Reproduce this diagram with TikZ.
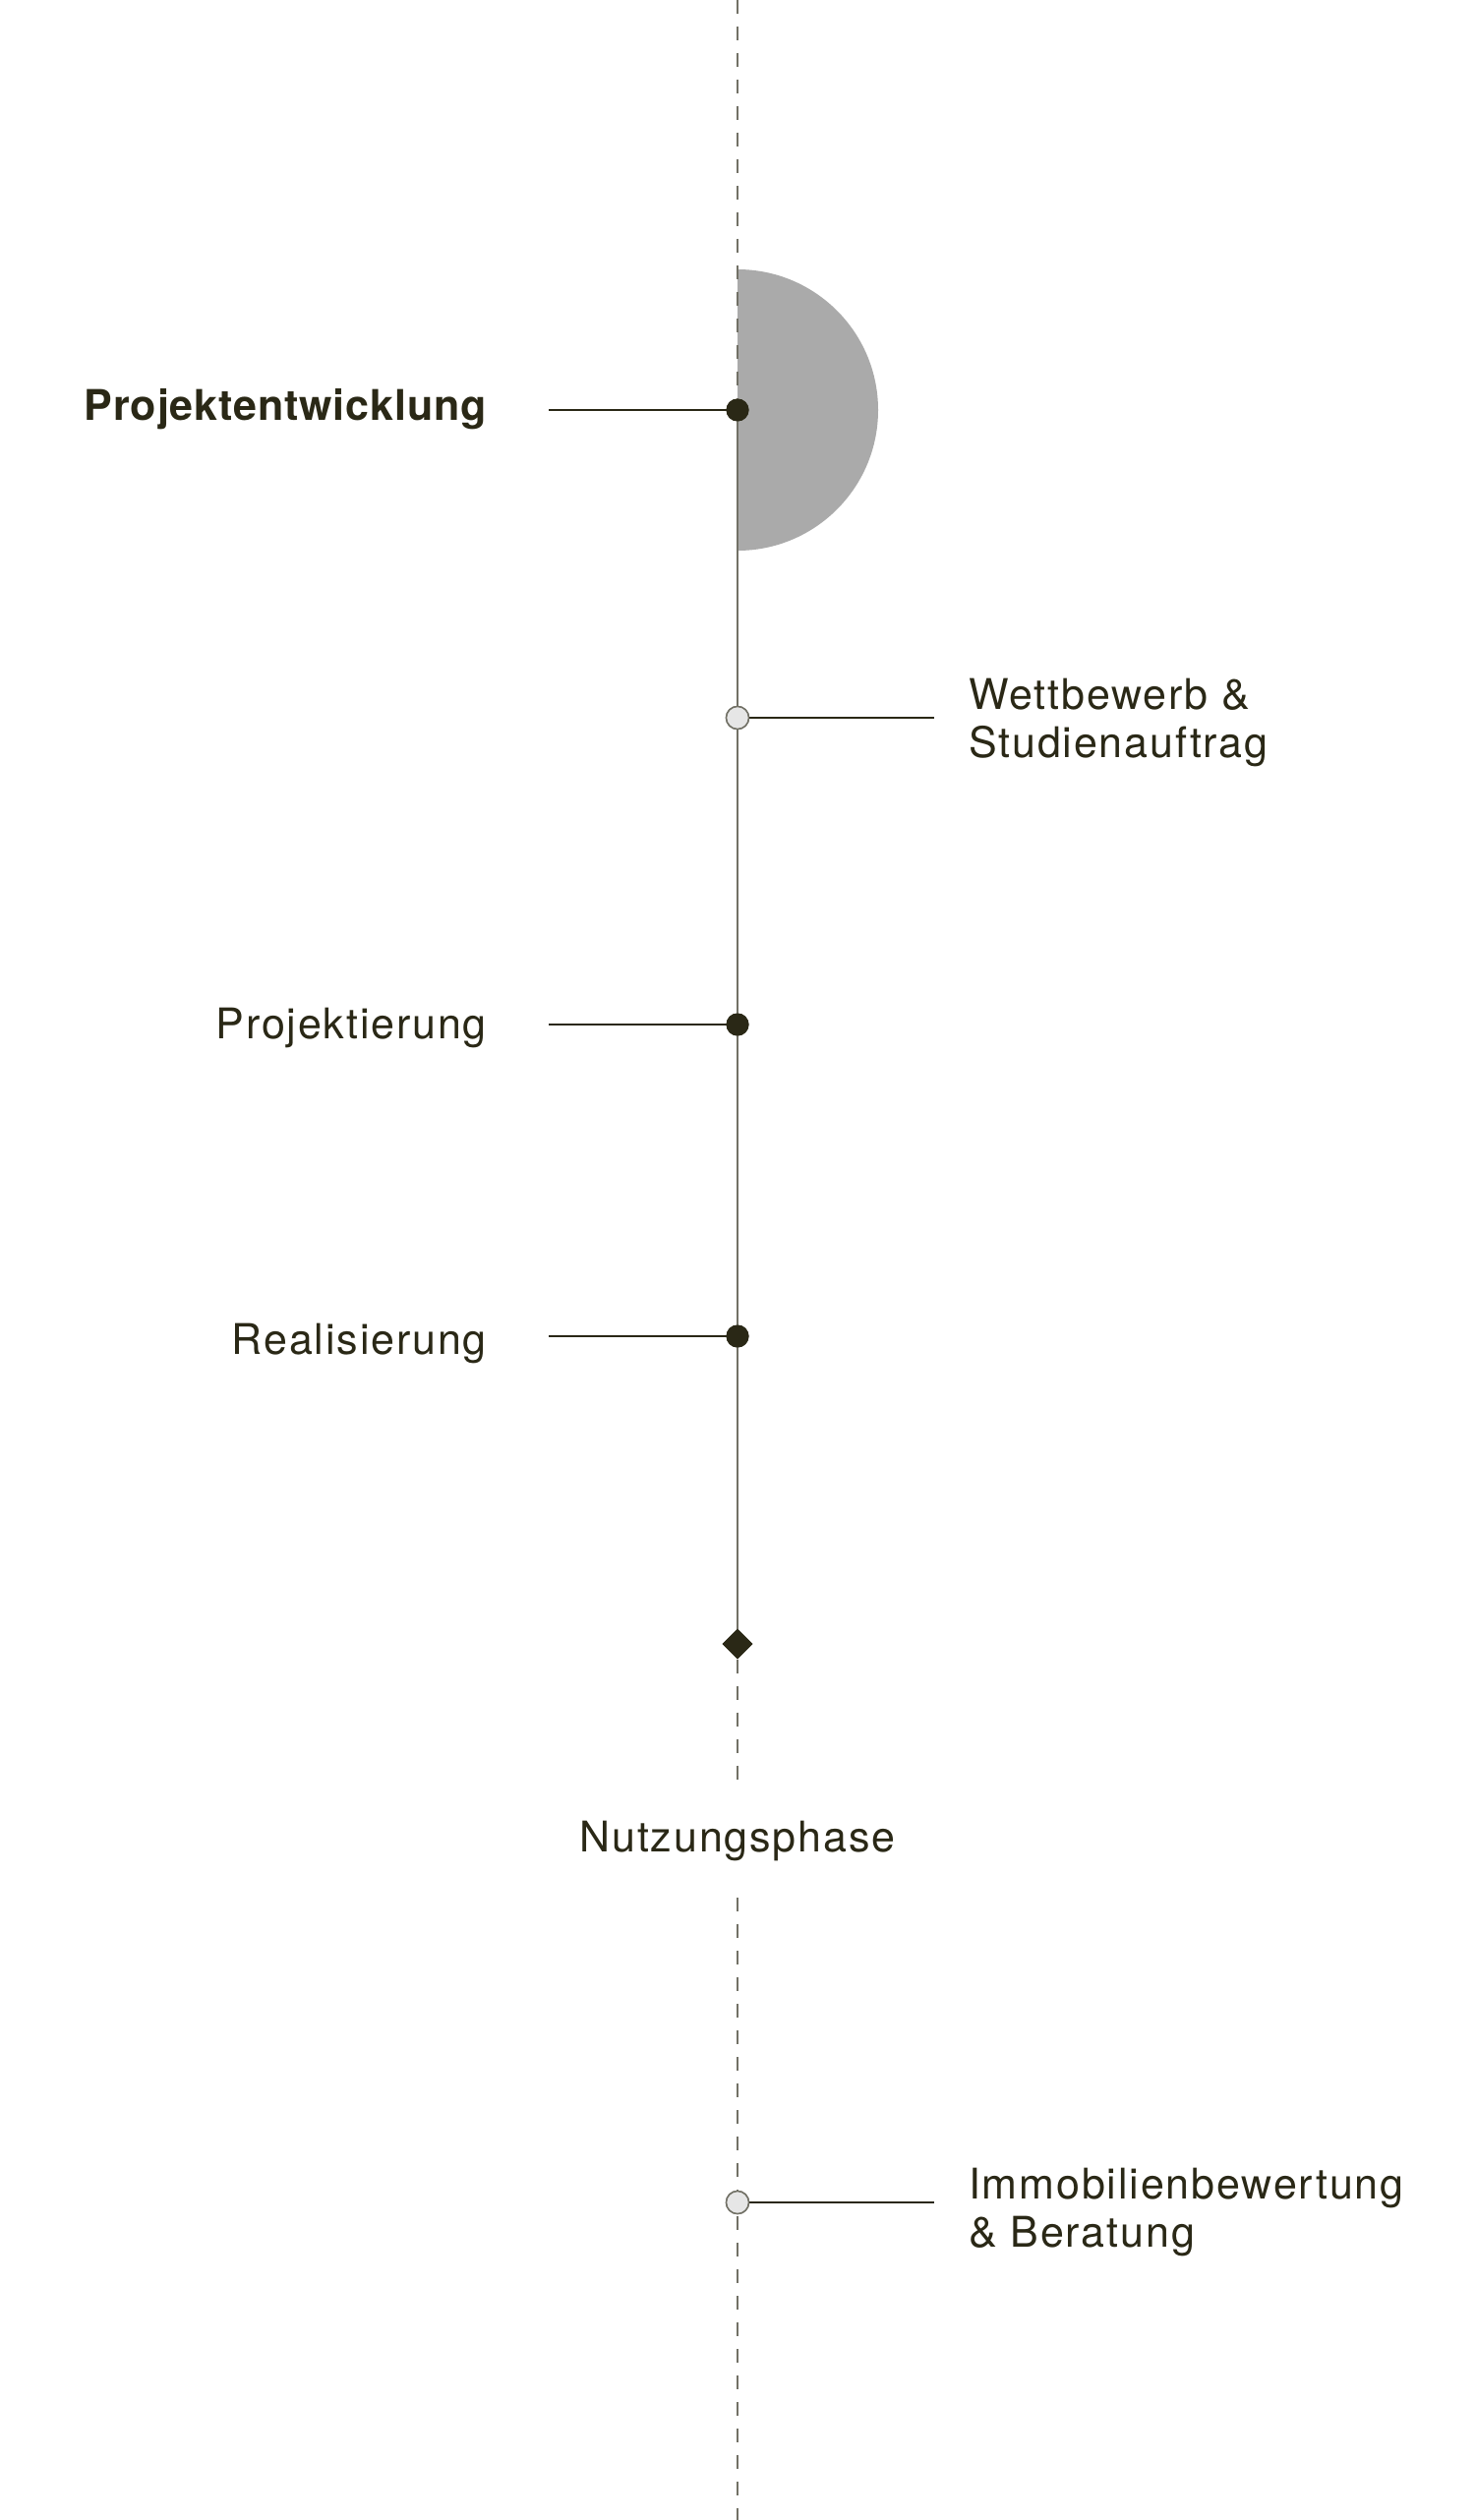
\documentclass[tikz,border=0pt]{standalone}
\usepackage{fontspec}
\setmainfont{TeX Gyre Heros}[LetterSpace=4.3]
\usetikzlibrary{shapes.geometric}
\definecolor{ink}{HTML}{2A2816}
\definecolor{axis}{HTML}{727166}
\definecolor{disc}{HTML}{AAAAAA}
\definecolor{hollow}{HTML}{E6E6E6}
\begin{document}
\begin{tikzpicture}[x=1pt,y=-1pt,
  dotfill/.style={circle, fill=ink, minimum size=23pt, inner sep=0pt},
  hollowdot/.style={circle, draw=axis, line width=1.5pt, fill=hollow, minimum size=23pt, inner sep=0pt},
  milestone/.style={diamond, fill=ink, minimum size=31pt, inner sep=0pt},
  lbl/.style={font=\fontsize{43}{49}\selectfont, text=ink, inner sep=0pt},
  axisdash/.style={draw=axis, line width=2pt, dash pattern=on 14pt off 13pt},
  axissolid/.style={draw=axis, line width=2pt},
  tick/.style={draw=ink, line width=1.6pt}]
\useasboundingbox (0,0) rectangle (1500,2563);
\fill[white] (0,0) rectangle (1500,2563);
% half disc
\coordinate (disccenter) at (750,417);
\fill[disc] (750,274) arc[start angle=-90, end angle=90, radius=143] -- cycle;
% nodes on the axis
\coordinate (top) at (750,0);
\coordinate (bot) at (750,2563);
\coordinate (gapA) at (750,1816);
\coordinate (gapB) at (750,1930);
\node[dotfill] (pe) at (750,417) {};
\node[hollowdot] (wb) at (750,730) {};
\node[dotfill] (pj) at (750,1042) {};
\node[dotfill] (re) at (750,1359) {};
\node[milestone] (ms) at (750,1672) {};
\node[hollowdot] (ib) at (750,2240) {};
% axis
\draw[axisdash] (top) -- (pe.center);
\draw[axissolid] (pe.center) -- (ms.center);
\draw[axisdash] (ms.south) -- (gapA);
\draw[axisdash] (gapB) -- (bot);
% connector end points
\coordinate (peL) at (558,417);
\coordinate (pjL) at (558,1042);
\coordinate (reL) at (558,1359);
\coordinate (wbR) at (950,730);
\coordinate (ibR) at (950,2240);
\draw[tick] (peL) -- (pe.center);
\draw[tick] (pjL) -- (pj.center);
\draw[tick] (reL) -- (re.center);
\draw[tick] (wb.east) -- (wbR);
\draw[tick] (ib.east) -- (ibR);
% redraw dots on top
\node[dotfill] at (pe) {};
\node[hollowdot] at (wb) {};
\node[dotfill] at (pj) {};
\node[dotfill] at (re) {};
\node[milestone] at (ms) {};
\node[hollowdot] at (ib) {};
% labels
\node[lbl, anchor=base east] (tpe) at (495,427) {\bfseries\addfontfeatures{LetterSpace=2}Projektentwicklung};
\node[lbl, anchor=base east] (tpj) at (495,1056) {Projektierung};
\node[lbl, anchor=base east] (tre) at (495,1377) {Realisierung};
\node[lbl, anchor=base west] (twb1) at (985,721) {Wettbewerb \&};
\node[lbl, anchor=base west] (twb2) at (985,770) {Studienauftrag};
\node[lbl, anchor=base] (tnu) at (750,1883) {Nutzungsphase};
\node[lbl, anchor=base west] (tib1) at (985,2236) {Immobilienbewertung};
\node[lbl, anchor=base west] (tib2) at (985,2285) {\& Beratung};
\end{tikzpicture}
\end{document}
